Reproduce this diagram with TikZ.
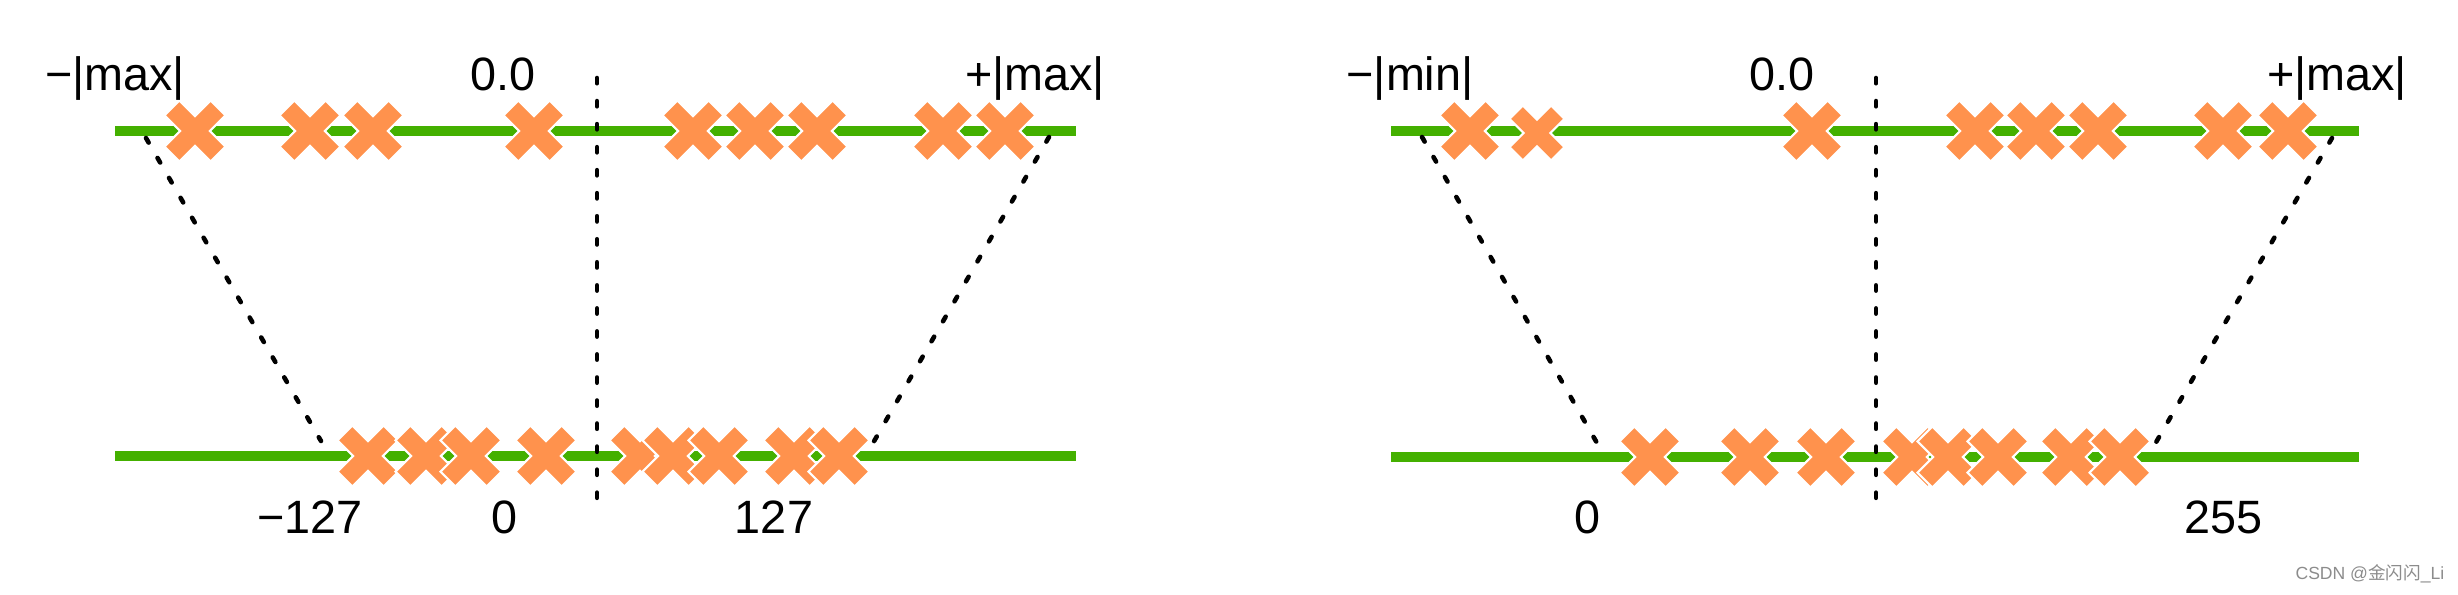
\documentclass[tikz,border=0pt]{standalone}
\usepackage{fontspec}
\setmainfont{Liberation Sans}
\newfontfamily\cjkfont{Noto Sans CJK SC}
\definecolor{xgreen}{RGB}{68,176,0}
\definecolor{xorange}{RGB}{255,146,77}
\tikzset{
  axisline/.style={draw=xgreen, line width=3.1pt, line cap=butt},
  dotline/.style={draw=black, line width=1.3pt, line cap=round, dash pattern=on 1.5pt off 5.05pt},
  lab/.style={font=\fontsize{13.3}{16}\selectfont, inner sep=0pt, anchor=base},
  xmark/.pic={\fill[xorange, draw=white, line width=0.6pt, line join=miter]
     (0,14.85) -- (15.7,30.5) -- (30.5,15.7) -- (14.85,0) -- (30.5,-15.7) -- (15.7,-30.5)
     -- (0,-14.85) -- (-15.7,-30.5) -- (-30.5,-15.7) -- (-14.85,0) -- (-30.5,15.7) -- (-15.7,30.5) -- cycle;},
}
\begin{document}
\begin{tikzpicture}[x=0.01cm, y=-0.01cm]
\useasboundingbox (0,0) rectangle (2458,594);
% ---------------- left panel ----------------
\coordinate (lt1) at (115,131); \coordinate (lt2) at (1076,131);
\coordinate (lbo1) at (115,456); \coordinate (lbo2) at (1076,456);
\draw[axisline] (lt1) -- (lt2);
\draw[axisline] (lbo1) -- (lbo2);
\foreach \x in {195,310,373,534,693,755,817,943,1005} \pic at (\x,131) {xmark};
\foreach \x in {368,426,471,546,640,673,719,794,839} \pic at (\x,456) {xmark};
\coordinate (lv1) at (597,78); \coordinate (lv2) at (597,500);
\coordinate (la1) at (146,138); \coordinate (la2) at (321,441);
\coordinate (lb1) at (1049,137); \coordinate (lb2) at (873,443);
\draw[dotline] (lv1) -- (lv2);
\draw[dotline] (la1) -- (la2);
\draw[dotline] (lb1) -- (lb2);
\node[lab] (lmin) at (115,90) {−|max|};
\node[lab] (lzero) at (503,90) {0.0};
\node[lab] (lmax) at (1035,90) {+|max|};
\node[lab] (lq1) at (310,533) {−127};
\node[lab] (lq2) at (504,533) {0};
\node[lab] (lq3) at (774,533) {127};
% ---------------- right panel ----------------
\coordinate (rt1) at (1391,131); \coordinate (rt2) at (2359,131);
\coordinate (rbo1) at (1391,457); \coordinate (rbo2) at (2359,457);
\draw[axisline] (rt1) -- (rt2);
\draw[axisline] (rbo1) -- (rbo2);
\pic at (1470,131) {xmark};
\pic[scale=0.9] at (1537,133) {xmark};
\foreach \x in {1812,1975,2036,2098,2223,2288} \pic at (\x,131) {xmark};
\foreach \x in {1650,1750,1826,1912,1948,1998,2071,2120} \pic at (\x,457) {xmark};
\coordinate (rv1) at (1876,78); \coordinate (rv2) at (1876,502);
\coordinate (ra1) at (1422,137); \coordinate (ra2) at (1597,443);
\coordinate (rb1) at (2332,138); \coordinate (rb2) at (2155,444);
\draw[dotline] (rv1) -- (rv2);
\draw[dotline] (ra1) -- (ra2);
\draw[dotline] (rb1) -- (rb2);
\node[lab] (rmin) at (1410,90) {−|min|};
\node[lab] (rzero) at (1782,90) {0.0};
\node[lab] (rmax) at (2337,90) {+|max|};
\node[lab] (rq1) at (1587,533) {0};
\node[lab] (rq2) at (2223,533) {255};
% watermark
\node[anchor=base east, inner sep=0pt, text=black!45, font=\fontsize{5}{6}\selectfont] (wm) at (2445,579) {CSDN @{\cjkfont 金闪闪}\_Li};
\end{tikzpicture}
\end{document}
